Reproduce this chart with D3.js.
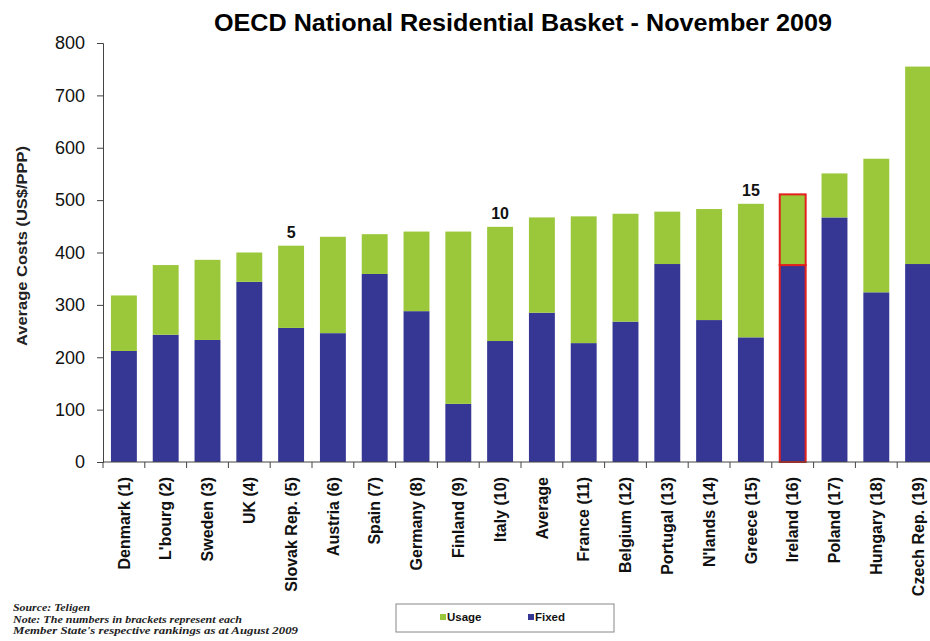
<!DOCTYPE html>
<html>
<head>
<meta charset="utf-8">
<script src="https://cdn.jsdelivr.net/npm/d3@7/dist/d3.min.js"></script>
<style>
  html, body { margin: 0; padding: 0; background: #ffffff; }
  svg { display: block; font-family: "Liberation Sans", Arial, sans-serif; }
</style>
</head>
<body>
<svg id="chart" width="930" height="641"></svg>
<script>
// ---- Data ----
const categories = ["Denmark (1)", "L'bourg (2)", "Sweden (3)", "UK (4)", "Slovak Rep. (5)", "Austria (6)", "Spain (7)", "Germany (8)", "Finland (9)", "Italy (10)", "Average", "France (11)", "Belgium (12)", "Portugal (13)", "N'lands (14)", "Greece (15)", "Ireland (16)", "Poland (17)", "Hungary (18)", "Czech Rep. (19)"];
const fixedValues = [212, 243, 233, 344, 256, 246, 359, 288, 111, 231, 285, 227, 268, 378, 271, 238, 376, 467, 324, 378];
const usageValues = [106, 133, 153, 56, 157, 184, 76, 152, 329, 218, 182, 242, 206, 100, 212, 255, 135, 84, 255, 377];
const yTicks = [0, 100, 200, 300, 400, 500, 600, 700, 800];
const rankCategories = ["Slovak Rep. (5)", "Italy (10)", "Greece (15)"];
const rankLabels = ["5", "10", "15"];
const highlightCategory = "Ireland (16)";
const seriesKeys = ["fixed", "usage"];
const seriesNames = ["Fixed", "Usage"];
const seriesColors = ["#363795", "#9bc83a"];
const titleText = "OECD National Residential Basket - November 2009";
const yTitle = "Average Costs (US$/PPP)";
const footnotes = ["Source:  Teligen", "Note: The numbers in brackets represent each", "Member State's respective rankings as at August 2009"];
const footnoteWidths = [77, 229, 285];

// ---- Build table ----
const table = categories.map((c, i) => ({ category: c, fixed: fixedValues[i], usage: usageValues[i] }));
const stacked = d3.stack().keys(seriesKeys)(table);

const svg = d3.select("#chart");
const plotLeft = 103, plotRight = 939, plotTop = 43, plotBottom = 462;

const x = d3.scaleBand().domain(categories).range([plotLeft, plotRight]).paddingInner(0.38).paddingOuter(0.19);
const y = d3.scaleLinear().domain([0, 800]).range([plotBottom, plotTop]);
const color = d3.scaleOrdinal().domain(seriesKeys).range(seriesColors);

// Title
svg.append("text")
  .attr("x", 523).attr("y", 31)
  .attr("text-anchor", "middle")
  .attr("font-size", 23).attr("font-weight", "bold").attr("fill", "#000")
  .attr("textLength", 618).attr("lengthAdjust", "spacingAndGlyphs")
  .text(titleText);

// Bars
const groups = svg.append("g").selectAll("g").data(stacked).join("g")
  .attr("fill", d => color(d.key));
groups.selectAll("rect").data(d => d).join("rect")
  .attr("x", d => x(d.data.category))
  .attr("y", d => y(d[1]))
  .attr("width", x.bandwidth())
  .attr("height", d => y(d[0]) - y(d[1]))
  .attr("stroke", d => d.data.category === highlightCategory ? "#e3201b" : "none")
  .attr("stroke-width", 2);

// Y axis
const yAxis = svg.append("g")
  .attr("transform", `translate(${plotLeft},0)`)
  .call(d3.axisLeft(y).tickValues(yTicks).tickSize(6).tickPadding(12).tickFormat(d3.format("d")));
yAxis.select(".domain").attr("stroke", "#444");
yAxis.selectAll(".tick line").attr("stroke", "#444");
yAxis.selectAll(".tick text").attr("font-size", 18).attr("fill", "#111")
  .attr("font-family", "'Liberation Sans', Arial, sans-serif");

// X axis (labels)
const xAxis = svg.append("g")
  .attr("transform", `translate(0,${plotBottom})`)
  .call(d3.axisBottom(x).tickSize(0).tickPadding(0));
xAxis.select(".domain").attr("stroke", "#444").attr("d", `M${plotLeft},0H${plotRight}`);
xAxis.selectAll(".tick text")
  .attr("font-size", 16).attr("font-weight", "bold").attr("fill", "#111")
  .attr("font-family", "'Liberation Sans', Arial, sans-serif")
  .attr("text-anchor", "end")
  .attr("transform", "rotate(-90)")
  .attr("x", -15).attr("y", 0).attr("dy", "0.35em");

// X boundary ticks
const step = x.step();
const boundaries = d3.range(categories.length + 1).map(i => plotLeft + i * step);
svg.append("g").selectAll("line").data(boundaries).join("line")
  .attr("x1", d => d).attr("x2", d => d)
  .attr("y1", plotBottom).attr("y2", plotBottom + 6)
  .attr("stroke", "#444");

// Rank labels
svg.append("g").selectAll("text").data(rankCategories).join("text")
  .attr("x", d => x(d) + x.bandwidth() / 2)
  .attr("y", d => { const i = categories.indexOf(d); return y(fixedValues[i] + usageValues[i]) - 8; })
  .attr("text-anchor", "middle")
  .attr("font-size", 16).attr("font-weight", "bold").attr("fill", "#111")
  .text((d, i) => rankLabels[i]);

// Y title
svg.append("text")
  .attr("transform", "translate(27,246) rotate(-90)")
  .attr("text-anchor", "middle")
  .attr("font-size", 15).attr("font-weight", "bold").attr("fill", "#222")
  .attr("textLength", 200).attr("lengthAdjust", "spacingAndGlyphs")
  .text(yTitle);

// Footnotes
svg.append("g").selectAll("text").data(footnotes).join("text")
  .attr("x", 13).attr("y", (d, i) => 611 + i * 11.5)
  .attr("font-size", 11).attr("font-style", "italic").attr("font-weight", "bold")
  .attr("font-family", "'Liberation Serif', 'Times New Roman', serif")
  .attr("fill", "#222")
  .attr("textLength", (d, i) => footnoteWidths[i]).attr("lengthAdjust", "spacingAndGlyphs")
  .text(d => d);

// Legend
const legend = svg.append("g");
legend.append("rect")
  .attr("x", 396).attr("y", 604).attr("width", 218).attr("height", 28)
  .attr("fill", "#fff").attr("stroke", "#888").attr("stroke-width", 1);
const legendOrder = ["usage", "fixed"];
const legendX = [440, 528];
legendOrder.forEach((k, i) => {
  legend.append("rect")
    .attr("x", legendX[i]).attr("y", 614).attr("width", 6).attr("height", 6)
    .attr("fill", color(k));
  legend.append("text")
    .attr("x", legendX[i] + 7).attr("y", 621)
    .attr("font-size", 11.5).attr("font-weight", "bold").attr("fill", "#111")
    .text(seriesNames[seriesKeys.indexOf(k)]);
});
</script>
</body>
</html>
